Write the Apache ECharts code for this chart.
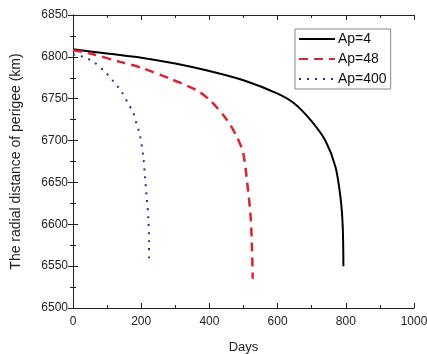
<!DOCTYPE html>
<html>
<head>
<meta charset="utf-8">
<script src="https://cdn.jsdelivr.net/npm/echarts@6/dist/echarts.min.js"></script>
<style>
  html, body { margin: 0; padding: 0; background: #fff; }
  #chart { width: 427px; height: 354px; }
</style>
</head>
<body>
<div id="chart"></div>
<script>
// Ap = 4 (solid black)
const daysAp4 = [0, 100, 200, 300, 400, 500, 600, 650, 700, 740, 770, 785, 791, 793];
const perigeeAp4 = [6809, 6804, 6799, 6792, 6783, 6772, 6756, 6744, 6723, 6700, 6668, 6630, 6597, 6550];

// Ap = 48 (dashed red)
const daysAp48 = [0, 50, 138, 200, 284, 363, 402, 451, 480, 499, 511, 521, 525, 527];
const perigeeAp48 = [6808, 6804, 6794, 6787, 6774, 6760, 6748, 6725, 6705, 6685, 6649, 6609, 6570, 6535];

// Ap = 400 (dotted blue)
const daysAp400 = [0, 30, 60, 94, 118, 143, 162, 177, 187, 196, 206, 211, 216, 221, 223, 223];
const perigeeAp400 = [6803, 6800, 6794, 6782, 6771, 6758, 6744, 6733, 6719, 6707, 6681, 6657, 6633, 6607, 6580, 6555];

const seriesNames = ['Ap=4', 'Ap=48', 'Ap=400'];

const font = 'Liberation Sans, Arial, sans-serif';
const pairs = (xs, ys) => xs.map((x, i) => [x, ys[i]]);

const chart = echarts.init(document.getElementById('chart'));

const axisLine = { show: true, lineStyle: { color: '#222', width: 1 } };
const majorTick = { show: true, inside: true, length: 5, lineStyle: { color: '#222' } };
const minorTick = { show: true, splitNumber: 2, length: 3, lineStyle: { color: '#222' } };

const option = {
  animation: false,
  textStyle: { fontFamily: font },
  grid: { left: 73, right: 13, top: 15, bottom: 46, outerBoundsMode: 'none', containLabel: false },
  legend: {
    orient: 'vertical',
    left: 295,
    top: 29,
    data: seriesNames,
    itemWidth: 36,
    itemHeight: 12,
    itemGap: 6,
    padding: [3, 4, 3, 3],
    borderColor: '#888',
    borderWidth: 1,
    itemStyle: { opacity: 0 },
    textStyle: { fontFamily: font, fontSize: 14, color: '#111', padding: [0, 0, 0, -2] }
  },
  xAxis: [
    {
      type: 'value',
      min: 0, max: 1000, interval: 200,
      name: 'Days',
      nameLocation: 'middle',
      nameGap: 33,
      nameTextStyle: { fontSize: 13, color: '#222', fontFamily: font },
      axisLine: axisLine,
      axisTick: majorTick,
      minorTick: minorTick,
      axisLabel: { fontSize: 12, color: '#222', margin: 8, fontFamily: font, formatter: v => String(v) },
      splitLine: { show: false }
    },
    {
      type: 'value', position: 'top',
      min: 0, max: 1000, interval: 200,
      axisLine: axisLine,
      axisTick: majorTick,
      minorTick: minorTick,
      axisLabel: { show: false },
      splitLine: { show: false }
    }
  ],
  yAxis: [
    {
      type: 'value',
      min: 6500, max: 6850, interval: 50,
      name: 'The radial distance of perigee (km)',
      nameLocation: 'middle',
      nameGap: 50,
      nameTextStyle: { fontSize: 14, color: '#222', fontFamily: font },
      axisLine: axisLine,
      axisTick: majorTick,
      minorTick: minorTick,
      axisLabel: { fontSize: 12, color: '#222', margin: 5, fontFamily: font, formatter: v => String(v) },
      splitLine: { show: false }
    },
    {
      type: 'value', position: 'right',
      min: 6500, max: 6850, interval: 50,
      axisLine: axisLine,
      axisTick: majorTick,
      minorTick: minorTick,
      axisLabel: { show: false },
      splitLine: { show: false }
    }
  ],
  series: [
    {
      name: seriesNames[0], type: 'line', smooth: 0.3, symbol: 'none',
      data: pairs(daysAp4, perigeeAp4),
      itemStyle: { color: '#000' },
      lineStyle: { color: '#000', width: 2, type: 'solid' }
    },
    {
      name: seriesNames[1], type: 'line', smooth: 0.3, symbol: 'none',
      data: pairs(daysAp48, perigeeAp48),
      itemStyle: { color: '#d8252f' },
      lineStyle: { color: '#d8252f', width: 2.5, type: [9, 6] }
    },
    {
      name: seriesNames[2], type: 'line', smooth: 0.3, symbol: 'none',
      data: pairs(daysAp400, perigeeAp400),
      itemStyle: { color: '#2a2f9a' },
      lineStyle: { color: '#2a2f9a', width: 2, type: [2, 6] }
    }
  ]
};

chart.setOption(option);
window.addEventListener('resize', () => chart.resize());
</script>
</body>
</html>
